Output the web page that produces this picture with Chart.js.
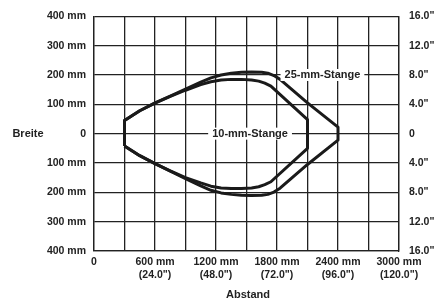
<!DOCTYPE html>
<html>
<head>
<meta charset="utf-8">
<script src="https://cdn.jsdelivr.net/npm/chart.js@4/dist/chart.umd.min.js"></script>
<style>
  html, body { margin: 0; padding: 0; background: #fff; }
  #wrap { width: 447px; height: 301px; }
</style>
</head>
<body>
<div id="wrap"><canvas id="beamChart" width="447" height="301"></canvas></div>
<script>
// Abstand (mm) / Breite (mm) fuer die zwei Stangen
const outerX = [300, 300, 450, 600, 750, 900, 1050, 1150, 1250, 1350, 1450, 1550, 1650, 1710, 1770, 1830, 2100, 2400,
                2400, 2100, 1830, 1770, 1710, 1650, 1550, 1450, 1350, 1250, 1150, 1050, 900, 750, 600, 450, 300];
const outerY = [-42, 45, 78, 105, 128, 152, 176, 190, 200, 206, 209, 210, 209, 206, 198, 185, 105, 22,
                -22, -105, -186, -199, -207, -210, -211, -210, -207, -202, -193, -178, -153, -128, -102, -75, -42];

const innerX = [300, 300, 450, 600, 750, 900, 1050, 1150, 1250, 1350, 1450, 1550, 1620, 1680, 1740, 2100,
                2100, 1740, 1680, 1620, 1550, 1450, 1350, 1250, 1150, 1050, 900, 750, 600, 450, 300];
const innerY = [-42, 45, 78, 104, 127, 148, 167, 177, 183, 185, 185, 183, 179, 172, 162, 48,
                -50, -164, -174, -181, -185, -187, -187, -185, -179, -168, -150, -127, -102, -75, -42];

// tick labels
const xTickVals = [0, 600, 1200, 1800, 2400, 3000];
const xTickMm = ['0', '600 mm', '1200 mm', '1800 mm', '2400 mm', '3000 mm'];
const xTickIn = ['', '(24.0")', '(48.0")', '(72.0")', '(96.0")', '(120.0")'];
const yTickVals = [400, 300, 200, 100, 0, -100, -200, -300, -400];
const yTickMm = ['400 mm', '300 mm', '200 mm', '100 mm', '0', '100 mm', '200 mm', '300 mm', '400 mm'];
const yTickIn = ['16.0"', '12.0"', '8.0"', '4.0"', '0', '4.0"', '8.0"', '12.0"', '16.0"'];

const curveLabels = ['25-mm-Stange', '10-mm-Stange'];
const curveLabelAt = [[2247, 200], [1535, 0]];

const FONT = "'Liberation Sans', Arial, sans-serif";
const INK = '#222';

function pts(xs, ys) {
    return xs.map((x, i) => ({ x: x, y: ys[i] }));
}

const extraText = {
    id: 'extraText',
    afterDatasetsDraw(chart) {
        const ctx = chart.ctx;
        const xs = chart.scales.x, ys = chart.scales.y;
        ctx.save();
        ctx.font = 'bold 11px ' + FONT;
        ctx.textBaseline = 'middle';
        ctx.textAlign = 'center';
        curveLabels.forEach((txt, i) => {
            const px = xs.getPixelForValue(curveLabelAt[i][0]);
            const py = ys.getPixelForValue(curveLabelAt[i][1]);
            const w = ctx.measureText(txt).width;
            ctx.fillStyle = '#fff';
            ctx.fillRect(px - w / 2 - 4, py - 6, w + 8, 12);
            ctx.fillStyle = INK;
            ctx.fillText(txt, px, py);
        });
        ctx.fillText('Breite', 28, ys.getPixelForValue(0));
        ctx.fillText('Abstand', 248, 295);
        ctx.restore();
    }
};

new Chart(document.getElementById('beamChart'), {
    type: 'scatter',
    data: {
        datasets: [
            {
                label: '25-mm-Stange',
                data: pts(outerX, outerY),
                showLine: true,
                borderColor: '#1a1a1a',
                borderWidth: 3,
                borderJoinStyle: 'round',
                pointRadius: 0,
                tension: 0
            },
            {
                label: '10-mm-Stange',
                data: pts(innerX, innerY),
                showLine: true,
                borderColor: '#1a1a1a',
                borderWidth: 3,
                borderJoinStyle: 'round',
                pointRadius: 0,
                tension: 0
            }
        ]
    },
    options: {
        responsive: false,
        animation: false,
        layout: { padding: { top: 15, left: 0, right: 0, bottom: 0 } },
        plugins: { legend: { display: false }, tooltip: { enabled: false } },
        scales: {
            x: {
                type: 'linear',
                min: 0, max: 3000,
                afterFit: s => { s.height = 50; },
                afterBuildTicks: s => { s.ticks = [0, 300, 600, 900, 1200, 1500, 1800, 2100, 2400, 2700, 3000].map(v => ({ value: v })); },
                grid: { color: INK, lineWidth: 1.3, drawTicks: false },
                border: { color: INK, width: 1.3 },
                ticks: {
                    autoSkip: false, maxRotation: 0, padding: 5,
                    color: INK, font: { family: FONT, size: 10.5, weight: 'bold' },
                    callback: v => {
                        const i = xTickVals.indexOf(v);
                        if (i < 0) return '';
                        return xTickIn[i] ? [xTickMm[i], xTickIn[i]] : xTickMm[i];
                    }
                }
            },
            y: {
                type: 'linear', position: 'left',
                min: -400, max: 400,
                afterFit: s => { s.width = 94; },
                grid: { color: INK, lineWidth: 1.3, drawTicks: false },
                border: { color: INK, width: 1.3 },
                ticks: {
                    stepSize: 100, padding: 8, autoSkip: false,
                    color: INK, font: { family: FONT, size: 10.5, weight: 'bold' },
                    callback: v => yTickMm[yTickVals.indexOf(v)]
                }
            },
            yIn: {
                type: 'linear', position: 'right',
                min: -400, max: 400,
                afterFit: s => { s.width = 48; },
                grid: { display: false, drawTicks: false },
                border: { color: INK, width: 1.3 },
                ticks: {
                    stepSize: 100, padding: 10, autoSkip: false,
                    color: INK, font: { family: FONT, size: 10.5, weight: 'bold' },
                    callback: v => yTickIn[yTickVals.indexOf(v)]
                }
            }
        }
    },
    plugins: [extraText]
});
</script>
</body>
</html>
